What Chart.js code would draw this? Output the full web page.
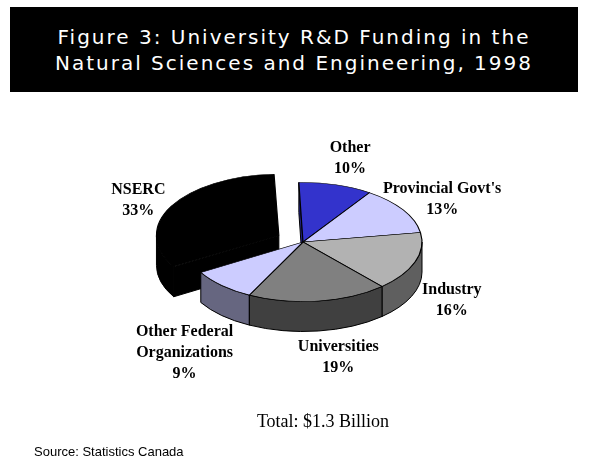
<!DOCTYPE html>
<html>
<head>
<meta charset="utf-8">
<script src="https://cdn.jsdelivr.net/npm/chart.js@4"></script>
<style>
  html, body { margin: 0; padding: 0; background: #fff; }
  #page { position: relative; width: 589px; height: 464px; overflow: hidden; }
  #chart { position: absolute; left: 0; top: 0; }
  .title {
    position: absolute; left: 10px; top: 7px; width: 568px; height: 85px;
    box-sizing: border-box; padding-top: 17px;
    background: #000; color: #fff; text-align: center;
    font: 20px "DejaVu Sans"; letter-spacing: 2px; line-height: 26px;
  }
  .total {
    position: absolute; left: 203px; top: 411px; width: 240px; text-align: center;
    font: 18px "Liberation Serif"; line-height: 20px; color: #000;
  }
  .source {
    position: absolute; left: 34px; top: 444px;
    font: 13px "Liberation Sans"; line-height: 15px; color: #000;
  }
</style>
</head>
<body>
<div id="page">
  <canvas id="chart" width="589" height="464"></canvas>
  <div class="title">Figure 3: University R&amp;D Funding in the<br>Natural Sciences and Engineering, 1998</div>
  <div class="total">Total: $1.3 Billion</div>
  <div class="source">Source: Statistics Canada</div>
</div>
<script>
// slices, clockwise from 12 o'clock
const categories = [['Other'], ["Provincial Govt's"], ['Industry'], ['Universities'], ['Other Federal', 'Organizations'], ['NSERC']];
const shares = [10, 13, 16, 19, 9, 33];
const explode = [0, 0, 0, 0, 0, 110];

const topColors = ['#3333cc', '#ccccff', '#b2b2b2', '#808080', '#ccccff', '#000000'];
const sideColors = ['#222288', '#8888aa', '#5f5f5f', '#404040', '#666680', '#000000'];
// small hand nudges for the slice labels (px), same order as the slices
const labelNudge = [[7, 0], [-16, 4], [3, -1], [14, 0], [0, 10], [-4, 7]];

const TILT = 0.5;   // vertical squash of the pie top
const DEPTH = 30;   // thickness of the pie in px

// where chart.js actually puts a slice once its offset is applied (see ArcElement.draw)
function sliceGeom(el) {
    const p = el.getProps(['x', 'y', 'startAngle', 'endAngle', 'outerRadius', 'circumference'], true);
    const off = (el.options.offset || 0) / 4;
    const mid = (p.startAngle + p.endAngle) / 2;
    const fix = 1 - Math.sin(Math.min(Math.PI, p.circumference || 0));
    return {
        cx: p.x + Math.cos(mid) * off,
        cy: p.y + Math.sin(mid) * off * TILT,
        r: p.outerRadius + off * fix,
        a0: p.startAngle,
        a1: p.endAngle,
        mid: mid
    };
}

const pie3d = {
    id: 'pie3d',
    beforeDatasetsDraw(chart) {
        const ctx = chart.ctx;
        const meta = chart.getDatasetMeta(0);
        const order = meta.data
            .map((el, i) => ({ i: i, g: sliceGeom(el) }))
            .sort((a, b) => Math.sin(a.g.mid) - Math.sin(b.g.mid));

        ctx.save();
        ctx.lineWidth = 1;
        ctx.strokeStyle = '#000';
        ctx.lineJoin = 'round';

        // cut faces that turn towards the viewer
        order.forEach(({ i, g }) => {
            [[g.a0, Math.cos(g.a0) < 0], [g.a1, Math.cos(g.a1) > 0]].forEach(([a, visible]) => {
                if (!visible) return;
                const ex = g.cx + g.r * Math.cos(a);
                const ey = g.cy + g.r * TILT * Math.sin(a);
                ctx.beginPath();
                ctx.moveTo(g.cx, g.cy);
                ctx.lineTo(ex, ey);
                ctx.lineTo(ex, ey + DEPTH);
                ctx.lineTo(g.cx, g.cy + DEPTH);
                ctx.closePath();
                ctx.fillStyle = sideColors[i];
                ctx.fill();
                ctx.stroke();
            });
        });

        // outer walls, only the front half is visible
        order.forEach(({ i, g }) => {
            for (let k = -1; k <= 1; k++) {
                const b0 = Math.max(g.a0, k * 2 * Math.PI);
                const b1 = Math.min(g.a1, k * 2 * Math.PI + Math.PI);
                if (b1 <= b0) continue;
                ctx.beginPath();
                ctx.ellipse(g.cx, g.cy, g.r, g.r * TILT, 0, b0, b1, false);
                ctx.ellipse(g.cx, g.cy + DEPTH, g.r, g.r * TILT, 0, b1, b0, true);
                ctx.closePath();
                ctx.fillStyle = sideColors[i];
                ctx.fill();
                ctx.stroke();
            }
        });
        ctx.restore();

        // squash the slice tops chart.js is about to draw
        const c = meta.data[0];
        ctx.save();
        ctx.translate(c.x, c.y);
        ctx.scale(1, TILT);
        ctx.translate(-c.x, -c.y);
    },
    afterDatasetsDraw(chart) {
        chart.ctx.restore();
    },
    afterDraw(chart) {
        const ctx = chart.ctx;
        const meta = chart.getDatasetMeta(0);
        const lh = 21, gap = 6;
        ctx.save();
        ctx.font = 'bold 16px "Liberation Serif"';
        ctx.fillStyle = '#000';
        ctx.textAlign = 'center';
        ctx.textBaseline = 'middle';
        meta.data.forEach((el, i) => {
            const g = sliceGeom(el);
            const lines = categories[i].concat([shares[i] + '%']);
            const w = Math.max(...lines.map(t => ctx.measureText(t).width));
            const h = lines.length * lh;
            const c = Math.cos(g.mid), s = Math.sin(g.mid);
            const px = g.cx + g.r * c;
            const py = g.cy + g.r * TILT * s + (s > 0 ? DEPTH : 0);
            const lx = px + c * (w / 2 + gap) + labelNudge[i][0];
            const ly = py + s * (h / 2 + gap) + labelNudge[i][1];
            lines.forEach((t, j) => ctx.fillText(t, lx, ly - h / 2 + lh * (j + 0.5)));
        });
        ctx.restore();
    }
};

new Chart(document.getElementById('chart'), {
    type: 'pie',
    data: {
        labels: categories,
        datasets: [{
            data: shares,
            backgroundColor: topColors,
            borderColor: '#000',
            borderWidth: 1.2,
            offset: explode,
            clip: false
        }]
    },
    options: {
        responsive: false,
        animation: false,
        events: [],
        rotation: -2,
        radius: 119,
        layout: { padding: { left: 100, right: 83, top: 120, bottom: 100 } },
        plugins: {
            legend: { display: false },
            tooltip: { enabled: false }
        }
    },
    plugins: [pie3d]
});
</script>
</body>
</html>
